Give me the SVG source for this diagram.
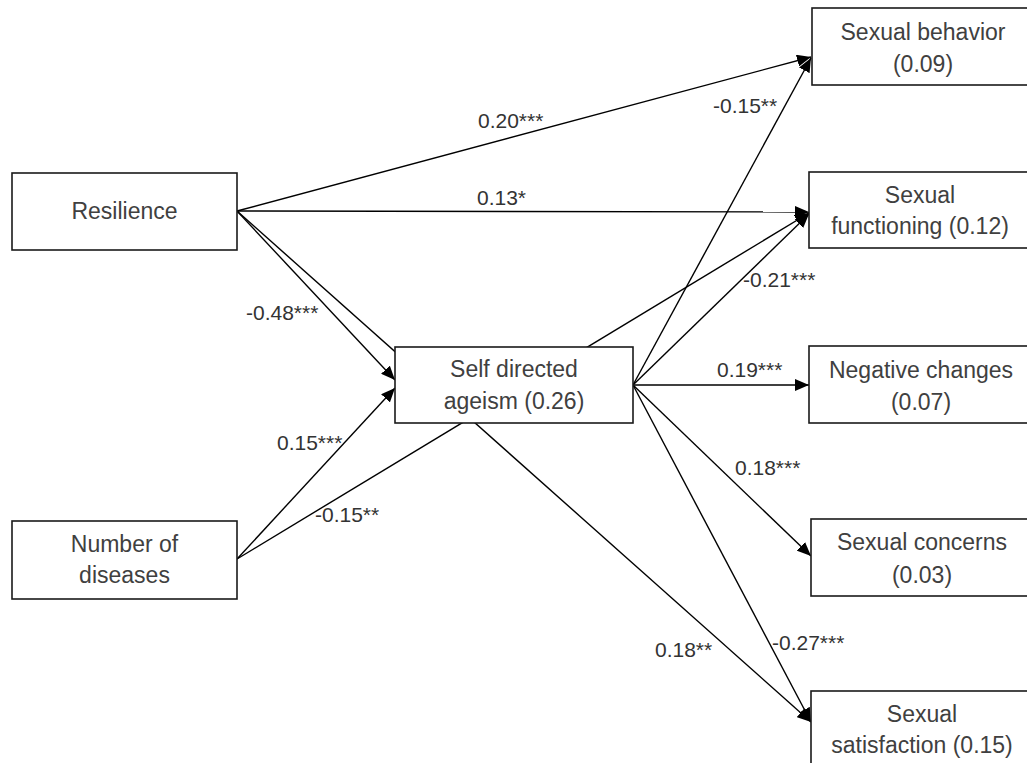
<svg xmlns="http://www.w3.org/2000/svg" width="1027" height="763" viewBox="0 0 1027 763">
<defs>
<marker id="arr" markerUnits="userSpaceOnUse" markerWidth="14" markerHeight="12" refX="14" refY="6" orient="auto">
<path d="M0,0 L14,6 L0,12 z" fill="#000"/>
</marker>
<style>
.box{fill:#fff;stroke:#1a1a1a;stroke-width:1.6}
.nl{font-family:"Liberation Sans",Arial,sans-serif;font-size:23px;fill:#404040;text-anchor:middle}
.el{font-family:"Liberation Sans",Arial,sans-serif;font-size:21px;fill:#333}
.c{stroke:#000;stroke-width:1.4;fill:none;marker-end:url(#arr)}
</style>
</defs>
<rect width="1027" height="763" fill="#fff"/>
<g id="connectors">
<line class="c" x1="237" y1="211" x2="811" y2="57"/>
<line class="c" x1="237" y1="211" x2="809" y2="212"/>
<line class="c" x1="237" y1="211" x2="395" y2="380"/>
<line class="c" x1="237" y1="211" x2="811" y2="722"/>
<line class="c" x1="237" y1="559" x2="395" y2="388"/>
<line class="c" x1="237" y1="559" x2="809" y2="213"/>
<line class="c" x1="633" y1="385" x2="811" y2="58"/>
<line class="c" x1="633" y1="385" x2="809" y2="214"/>
<line class="c" x1="633" y1="385" x2="809" y2="385"/>
<line class="c" x1="633" y1="385" x2="811" y2="556"/>
<line class="c" x1="633" y1="385" x2="811" y2="722"/>
<text class="el" x="478" y="128">0.20***</text>
<text class="el" x="477" y="205">0.13*</text>
<text class="el" x="246" y="320">-0.48***</text>
<text class="el" x="655" y="657">0.18**</text>
<text class="el" x="277" y="450">0.15***</text>
<text class="el" x="315" y="522">-0.15**</text>
<text class="el" x="713" y="113">-0.15**</text>
<text class="el" x="743" y="287">-0.21***</text>
<text class="el" x="717" y="377">0.19***</text>
<text class="el" x="735" y="475">0.18***</text>
<text class="el" x="772" y="650">-0.27***</text>
</g>
<g id="resilience">
<rect class="box" x="12" y="173" width="225" height="77"/>
<text class="nl" x="124.5" y="219">Resilience</text>
</g>
<g id="diseases">
<rect class="box" x="12" y="521" width="225" height="78"/>
<text class="nl" x="124.5" y="552">Number of</text>
<text class="nl" x="124.5" y="583">diseases</text>
</g>
<g id="ageism">
<rect class="box" x="395" y="347" width="238" height="76"/>
<text class="nl" x="514" y="377">Self directed</text>
<text class="nl" x="514" y="409">ageism (0.26)</text>
</g>
<g id="behavior">
<rect class="box" x="812" y="8" width="230" height="77"/>
<text class="nl" x="923" y="40">Sexual behavior</text>
<text class="nl" x="923" y="72">(0.09)</text>
</g>
<g id="functioning">
<rect class="box" x="809" y="172" width="233" height="76"/>
<text class="nl" x="920" y="203">Sexual</text>
<text class="nl" x="920" y="234">functioning (0.12)</text>
</g>
<g id="negative">
<rect class="box" x="809" y="346" width="233" height="77"/>
<text class="nl" x="921" y="378">Negative changes</text>
<text class="nl" x="921" y="410">(0.07)</text>
</g>
<g id="concerns">
<rect class="box" x="811" y="519" width="231" height="77"/>
<text class="nl" x="922" y="550">Sexual concerns</text>
<text class="nl" x="922" y="583">(0.03)</text>
</g>
<g id="satisfaction">
<rect class="box" x="811" y="691" width="231" height="90"/>
<text class="nl" x="922" y="722">Sexual</text>
<text class="nl" x="922" y="753">satisfaction (0.15)</text>
</g>
</svg>
